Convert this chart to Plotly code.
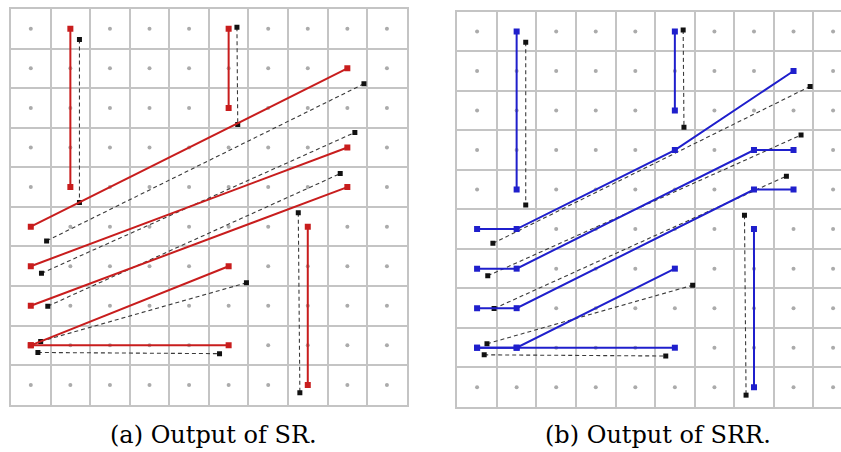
import plotly.graph_objects as go

# 10 x 10 grid of cells, centres at integer coordinates (y grows upward)
GRID_N = 10

# Output of SR: one polyline per stroke
sr_x = [[1, 1], [5, 5], [0, 8], [0, 8], [0, 8], [0, 5], [0, 5], [7, 7]]
sr_y = [[9, 5], [9, 7], [4, 8], [3, 6], [2, 5], [1, 3], [1, 1], [4, 0]]

# Output of SRR: strokes snapped to the grid with horizontal runs
srr_x = [[1, 1], [5, 5], [0, 1, 5, 8], [0, 1, 7, 8], [0, 1, 7, 8], [0, 1, 5], [0, 1, 5], [7, 7]]
srr_y = [[9, 5], [9, 7], [4, 4, 6, 8], [3, 3, 6, 6], [2, 2, 5, 5], [1, 1, 3], [1, 1, 1], [4, 0]]

# Reference strokes (dashed), shared by both panels
ref_x = [[1.23, 1.23], [5.21, 5.23], [0.40, 8.42], [0.27, 8.19], [0.43, 7.82],
         [0.25, 5.45], [0.18, 4.77], [6.76, 6.80]]
ref_y = [[8.73, 4.61], [9.04, 6.58], [3.64, 7.61], [2.82, 6.38], [1.99, 5.34],
         [1.10, 2.58], [0.82, 0.79], [4.35, -0.20]]

captions = ["(a) Output of SR.", "(b) Output of SRR."]

RED = "#c81d1d"
BLUE = "#1f1fcc"
GRID = "#c4c4c4"
DOT = "#ababab"


def join(paths):
    out = []
    for i, p in enumerate(paths):
        if i:
            out.append(None)
        out.extend(p)
    return out


fig = go.Figure()

dot_x = [i for i in range(GRID_N) for _ in range(GRID_N)]
dot_y = [j for _ in range(GRID_N) for j in range(GRID_N)]

for k, (px, py, col) in enumerate([(sr_x, sr_y, RED), (srr_x, srr_y, BLUE)]):
    xa = "x" if k == 0 else "x2"
    ya = "y" if k == 0 else "y2"
    fig.add_trace(go.Scatter(
        x=dot_x, y=dot_y, mode="markers", xaxis=xa, yaxis=ya,
        marker=dict(size=4, color=DOT, symbol="circle"),
        hoverinfo="skip", showlegend=False))
    fig.add_trace(go.Scatter(
        x=join(ref_x), y=join(ref_y), mode="lines+markers", xaxis=xa, yaxis=ya,
        line=dict(color="#3a3a3a", width=1.1, dash="4px,3px"),
        marker=dict(size=5, color="#111111", symbol="square"),
        connectgaps=False, showlegend=False))
    fig.add_trace(go.Scatter(
        x=join(px), y=join(py), mode="lines+markers", xaxis=xa, yaxis=ya,
        line=dict(color=col, width=2),
        marker=dict(size=6, color=col, symbol="square"),
        connectgaps=False, showlegend=False))

half = [i - 0.5 for i in range(GRID_N + 1)]
common = dict(tickvals=half, showticklabels=False, ticks="", showgrid=True,
              gridcolor=GRID, gridwidth=1.5, zeroline=False, fixedrange=True,
              showline=True, linecolor=GRID, linewidth=1.5)

W, H = 841, 452
cap_font = dict(family="DejaVu Serif", size=24, color="#000000")
fig.update_layout(
    width=W, height=H,
    margin=dict(l=0, r=0, t=0, b=0),
    paper_bgcolor="white", plot_bgcolor="white",
    xaxis=dict(domain=[11 / W, 406.7 / W], range=[-0.5, 9.5], mirror=True, **common),
    yaxis=dict(domain=[(H - 404.7) / H, (H - 9) / H], range=[-0.5, 9.5], mirror=True, **common),
    xaxis2=dict(domain=[457.3 / W, 1.0], range=[-0.5, 9.2], mirror=True, anchor="y2", **common),
    yaxis2=dict(domain=[(H - 407) / H, (H - 11.7) / H], range=[-0.5, 9.5], mirror=False,
                anchor="x2", **common),
    annotations=[
        dict(text=captions[0], x=213 / W, y=(H - 435) / H, xref="paper", yref="paper",
             showarrow=False, xanchor="center", yanchor="middle", font=cap_font),
        dict(text=captions[1], x=657.5 / W, y=(H - 435) / H, xref="paper", yref="paper",
             showarrow=False, xanchor="center", yanchor="middle", font=cap_font),
    ],
)

fig.write_html("out.html")
